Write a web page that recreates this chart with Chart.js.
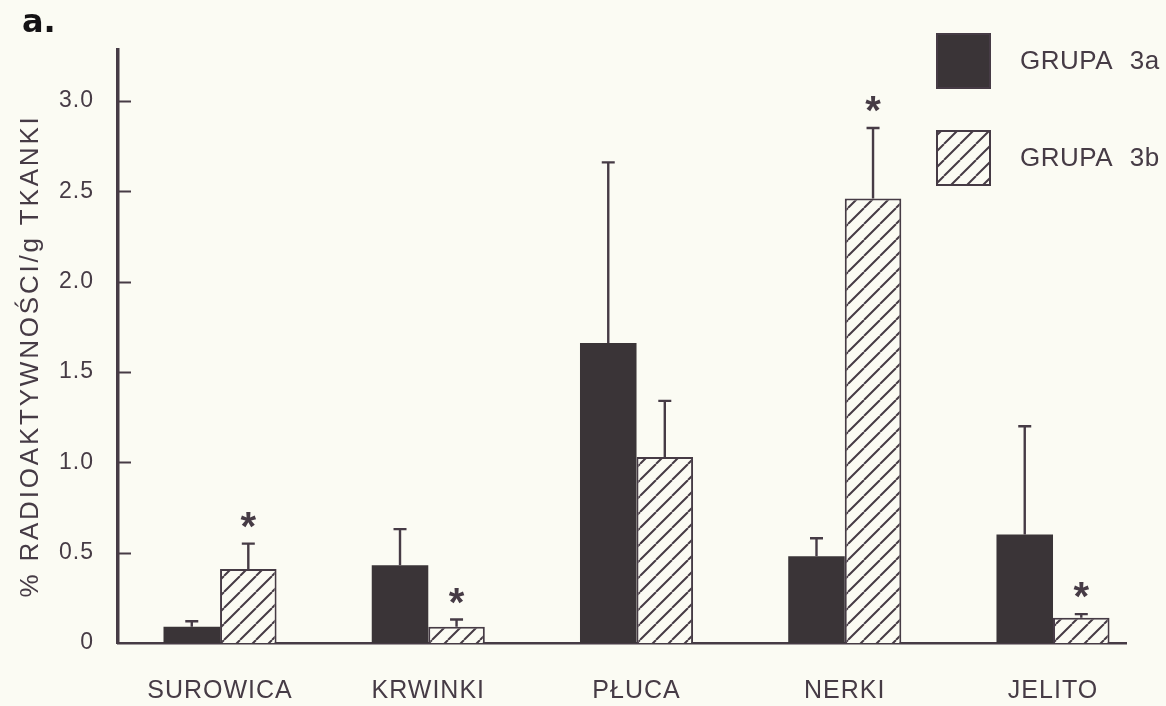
<!DOCTYPE html>
<html>
<head>
<meta charset="utf-8">
<script src="https://cdn.jsdelivr.net/npm/chart.js@4.4.1/dist/chart.umd.min.js"></script>
<style>
  html, body { margin: 0; padding: 0; background: #fbfbf3; }
  canvas { display: block; }
</style>
</head>
<body>
<canvas id="chart" width="1166" height="706"></canvas>
<script>
// Organs sampled, group means and standard deviations (% radioactivity per g tissue)
const categories = ['SUROWICA', 'KRWINKI', 'PŁUCA', 'NERKI', 'JELITO'];
const grupa3a    = [0.09, 0.43, 1.66, 0.48, 0.60];
const grupa3aSD  = [0.03, 0.20, 1.00, 0.10, 0.60];
const grupa3b    = [0.41, 0.09, 1.03, 2.46, 0.14];
const grupa3bSD  = [0.14, 0.04, 0.31, 0.39, 0.02];
// Groups 3b significantly different from 3a (marked with an asterisk)
const significant3b = [true, true, false, true, true];
const seriesNames = ['GRUPA 3a', 'GRUPA 3b'];
const yTitle = '% RADIOAKTYWNOŚCI/g TKANKI';
const panelTag = 'a.';

const BG = '#fbfbf3';
const INK = '#463b45';
const DARK = '#3a3437';
const FONT = '"Liberation Sans", Arial, sans-serif';

const canvas = document.getElementById('chart');
const ctx = canvas.getContext('2d');

// Diagonal hatching tile for the second group
function makeHatch() {
  const s = 16;
  const t = document.createElement('canvas');
  t.width = s; t.height = s;
  const g = t.getContext('2d');
  g.fillStyle = BG;
  g.fillRect(0, 0, s, s);
  g.strokeStyle = INK;
  g.lineWidth = 2;
  g.beginPath();
  for (const o of [-s, 0, s]) { g.moveTo(o, s); g.lineTo(o + s, 0); }
  g.stroke();
  return ctx.createPattern(t, 'repeat');
}
const hatch = makeHatch();

const sdByDataset = [grupa3aSD, grupa3bSD];
const toPoints = arr => arr.map((v, i) => ({ x: i, y: v }));

const decorations = {
  id: 'decorations',
  beforeDraw(chart) {
    chart.ctx.letterSpacing = '1px';
  },
  afterDraw(chart) {
    const c = chart.ctx;
    const y = chart.scales.y;
    const area = chart.chartArea;
    c.save();

    // inward tick marks on the value axis
    c.strokeStyle = INK;
    c.lineWidth = 2;
    y.ticks.forEach(t => {
      if (t.value === 0) return;
      const py = Math.round(y.getPixelForValue(t.value)) + 0.5;
      c.beginPath();
      c.moveTo(area.left, py);
      c.lineTo(area.left + 13, py);
      c.stroke();
    });

    // error bars (upper half) for every bar
    chart.data.datasets.forEach((ds, di) => {
      const meta = chart.getDatasetMeta(di);
      const sds = sdByDataset[di];
      meta.data.forEach((bar, i) => {
        const v = ds.data[i].y;
        const top = y.getPixelForValue(v + sds[i]);
        const base = y.getPixelForValue(v);
        c.strokeStyle = INK;
        c.lineWidth = 2.4;
        c.beginPath();
        c.moveTo(bar.x, base);
        c.lineTo(bar.x, top);
        c.moveTo(bar.x - 6.5, top);
        c.lineTo(bar.x + 6.5, top);
        c.stroke();
        if (di === 1 && significant3b[i]) {
          c.fillStyle = INK;
          c.letterSpacing = '0px';
          c.font = 'bold 40px ' + FONT;
          c.textAlign = 'center';
          c.textBaseline = 'alphabetic';
          const m = c.measureText('*');
          const cy = top - 24;
          c.fillText('*', bar.x, cy + (m.actualBoundingBoxAscent - m.actualBoundingBoxDescent) / 2);
        }
      });
    });

    // legend boxes on the right
    const legendY = [33, 130];
    chart.data.datasets.forEach((ds, di) => {
      const bx = 936, by = legendY[di], bw = 55, bh = 56;
      c.fillStyle = ds.backgroundColor;
      c.fillRect(bx, by, bw, bh);
      c.strokeStyle = INK;
      c.lineWidth = 2;
      c.strokeRect(bx + 1, by + 1, bw - 2, bh - 2);
      c.fillStyle = INK;
      c.font = '26px ' + FONT;
      c.letterSpacing = '0.5px';
      c.wordSpacing = '9px';
      c.textAlign = 'left';
      c.textBaseline = 'middle';
      c.fillText(ds.label, 1020, by + bh / 2 + 1);
    });
    c.wordSpacing = '0px';

    // value axis title
    c.translate(31, 356);
    c.rotate(-Math.PI / 2);
    c.fillStyle = INK;
    c.font = '26px ' + FONT;
    c.letterSpacing = '2.8px';
    c.textAlign = 'center';
    c.textBaseline = 'middle';
    c.fillText(yTitle, 0, 0);
    c.setTransform(1, 0, 0, 1, 0, 0);

    // panel tag
    c.letterSpacing = '0px';
    c.fillStyle = '#141214';
    c.font = 'bold 32px "DejaVu Sans", sans-serif';
    c.textAlign = 'left';
    c.textBaseline = 'alphabetic';
    c.fillText(panelTag, 22, 32);

    c.restore();
  }
};

new Chart(ctx, {
  type: 'bar',
  data: {
    datasets: [
      {
        label: seriesNames[0],
        data: toPoints(grupa3a),
        backgroundColor: DARK,
        borderWidth: 0
      },
      {
        label: seriesNames[1],
        data: toPoints(grupa3b),
        backgroundColor: hatch,
        borderColor: INK,
        borderWidth: 2,
        borderSkipped: 'start'
      }
    ]
  },
  options: {
    responsive: false,
    animation: false,
    devicePixelRatio: 1,
    categoryPercentage: 0.543,
    barPercentage: 1,
    layout: { padding: { left: 0, top: 50, right: 40, bottom: 0 } },
    plugins: {
      legend: { display: false },
      tooltip: { enabled: false }
    },
    scales: {
      x: {
        type: 'linear',
        offset: false,
        min: -0.49,
        max: 4.3505,
        z: 1,
        grid: { display: false, drawTicks: false },
        border: { display: true, color: INK, width: 2.5 },
        ticks: {
          stepSize: 1,
          includeBounds: false,
          autoSkip: false,
          maxRotation: 0,
          padding: 33,
          color: INK,
          font: { family: FONT, size: 25 },
          callback: v => categories[v] ?? ''
        },
        afterFit: s => { s.height = 63; }
      },
      y: {
        min: 0,
        max: 3.282,
        z: 1,
        grid: { display: false, drawTicks: false },
        border: { display: true, color: INK, width: 3.5 },
        ticks: {
          stepSize: 0.5,
          includeBounds: false,
          padding: 24,
          color: INK,
          font: { family: FONT, size: 23 },
          callback: v => (v === 0 ? '0' : v.toFixed(1))
        },
        afterFit: s => { s.width = 118; }
      }
    }
  },
  plugins: [decorations]
});
</script>
</body>
</html>
